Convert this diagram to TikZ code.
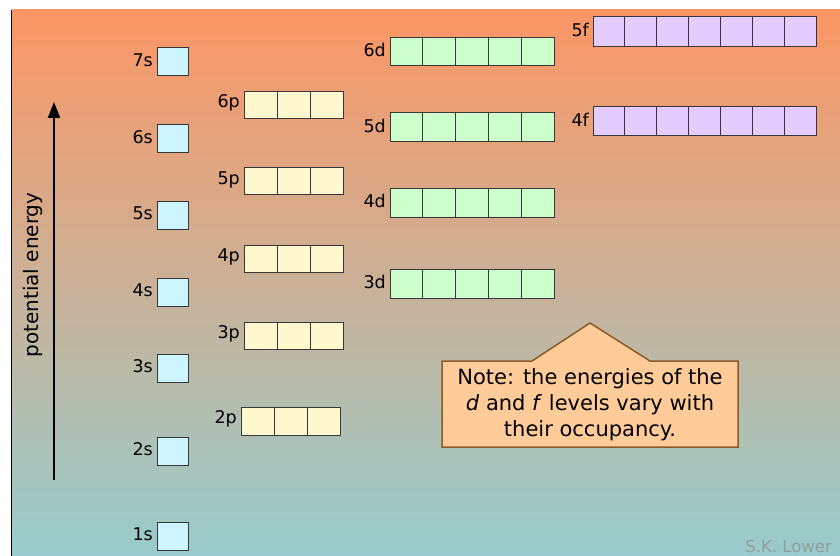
\documentclass[tikz,border=0pt]{standalone}
\usepackage{fontspec}
\setmainfont{DejaVu Sans}
\usetikzlibrary{arrows.meta}
\definecolor{bgtop}{RGB}{252,150,100}
\definecolor{bgbot}{RGB}{152,204,204}
\definecolor{sfill}{RGB}{204,245,255}
\definecolor{pfill}{RGB}{255,248,206}
\definecolor{dfill}{RGB}{204,255,204}
\definecolor{ffill}{RGB}{228,204,255}
\definecolor{cellline}{RGB}{55,55,55}
\definecolor{notefill}{RGB}{255,204,153}
\definecolor{noteline}{RGB}{140,90,40}
\definecolor{credit}{RGB}{145,158,158}
\tikzset{
  cell/.style={draw=cellline, line width=1pt, inner sep=0pt, outer sep=0pt, anchor=west},
  scell/.style={cell, fill=sfill},
  pcell/.style={cell, fill=pfill},
  dcell/.style={cell, fill=dfill},
  fcell/.style={cell, fill=ffill},
  lbl/.style={anchor=east, inner sep=0pt, font=\fontsize{17.5}{20}\selectfont},
}
% #1 name, #2 label, #3 left x, #4 centre y, #5 cells, #6 cell width, #7 height, #8 style
\newcommand{\orbrow}[8]{%
  \foreach \i in {1,...,#5}{%
    \node[#8, minimum width=#6pt, minimum height=#7pt] (#1-\i) at ({#3+(\i-1)*#6}, #4) {};
  }
  \node[lbl] (#1-lbl) at ([xshift=-4pt,yshift=2pt]#1-1.west) {#2};
}
\begin{document}
\begin{tikzpicture}[x=1pt, y=-1pt]
\useasboundingbox (0,0) rectangle (840,556);
\fill[white] (0,0) rectangle (840,556);
\shade[top color=bgtop, bottom color=bgbot] (12,10) rectangle (840,556);
\draw[line width=1.3pt] (11.6,10) -- (11.6,556);

% s levels
\orbrow{s7}{7s}{157}{62}{1}{31}{28}{scell}
\orbrow{s6}{6s}{157}{139}{1}{31}{28}{scell}
\orbrow{s5}{5s}{157}{215.5}{1}{31}{28}{scell}
\orbrow{s4}{4s}{157}{292}{1}{31}{28}{scell}
\orbrow{s3}{3s}{157}{368}{1}{31}{28}{scell}
\orbrow{s2}{2s}{157}{451.5}{1}{31}{28}{scell}
\orbrow{s1}{1s}{157}{536}{1}{31}{28}{scell}

% p levels
\orbrow{p6}{6p}{244}{105}{3}{33.3}{27}{pcell}
\orbrow{p5}{5p}{244}{181.5}{3}{33.3}{27}{pcell}
\orbrow{p4}{4p}{244}{259}{3}{33.3}{27}{pcell}
\orbrow{p3}{3p}{244}{336}{3}{33.3}{27}{pcell}
\orbrow{p2}{2p}{241}{421}{3}{33.1}{28}{pcell}

% d levels
\orbrow{d6}{6d}{390}{52}{5}{32.8}{28}{dcell}
\orbrow{d5}{5d}{390}{127.5}{5}{32.8}{29}{dcell}
\orbrow{d4}{4d}{390}{203}{5}{32.8}{28}{dcell}
\orbrow{d3}{3d}{390}{283.5}{5}{32.8}{29}{dcell}

% f levels
\orbrow{f5}{5f}{593}{32}{7}{31.86}{30}{fcell}
\orbrow{f4}{4f}{593}{121.5}{7}{31.86}{29}{fcell}

% energy axis
\coordinate (abot) at (54,480);
\coordinate (atop) at (54,102);
\draw[line width=1.8pt, -{Triangle[length=16pt,width=12pt]}] (abot) -- (atop);
\node[rotate=90, inner sep=0pt, font=\fontsize{20}{24}\selectfont] (pe) at (33,275) {potential energy};

% note callout
\draw[fill=notefill, draw=noteline, line width=1.5pt, line join=miter]
  (442,361) -- (532,361) -- (590,323) -- (650,361) -- (738,361) -- (738,447) -- (442,447) -- cycle;
\node[align=center, inner sep=0pt, font=\fontsize{21}{26}\selectfont] (note) at (590,405)
  {Note: the energies of the\\ \textit{d} and \textit{f} levels vary with\\ their occupancy.};

% credit
\node[anchor=base east, inner sep=0pt, text=credit, font=\fontsize{16.5}{20}\selectfont] (cred) at (832,552) {S.K. Lower};
\end{tikzpicture}
\end{document}
